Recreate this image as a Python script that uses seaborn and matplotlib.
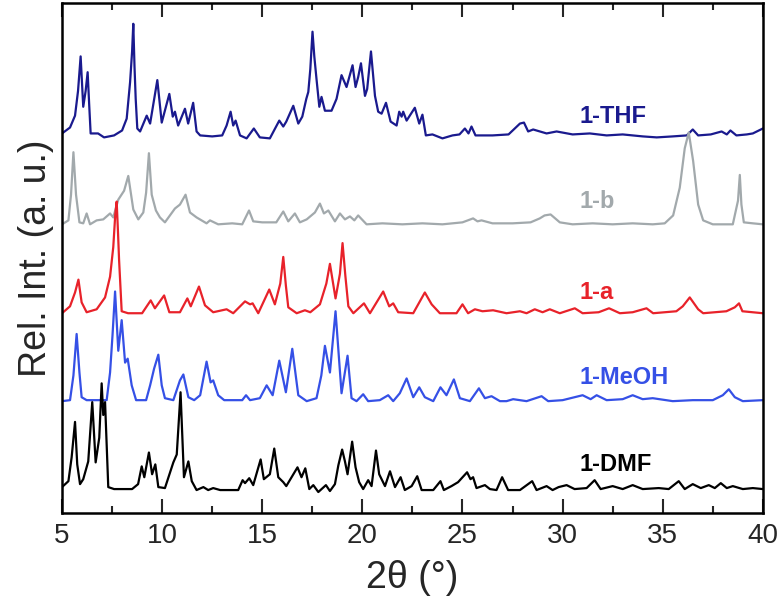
import numpy as np
import pandas as pd
import matplotlib
matplotlib.use("Agg")
import matplotlib.pyplot as plt
import seaborn as sns
from matplotlib.ticker import MultipleLocator

# ---- data (2theta in degrees, intensity above own baseline) ----
thf_x = [5.0, 5.4, 5.65, 5.8, 5.93, 6.06, 6.18, 6.28, 6.36, 6.43, 6.8, 7.1, 7.6, 8.0, 8.23,
         8.4, 8.5, 8.56, 8.62, 8.68, 8.76, 8.9, 9.23, 9.4,
         9.76, 9.98, 10.36, 10.53, 10.64, 10.8, 11.14, 11.3, 11.55, 11.72, 11.9, 12.5, 13.0,
         13.22, 13.42, 13.55, 13.67, 13.89, 14.22, 14.58, 14.88, 15.38, 15.85, 16.05, 16.2,
         16.55, 16.8, 17.0, 17.2, 17.3, 17.4, 17.51, 17.6, 17.71, 17.85, 17.96, 18.13, 18.46,
         18.71, 18.96, 19.21, 19.51, 19.66, 19.79, 19.93, 20.13, 20.24, 20.43, 20.63, 20.79,
         20.96, 21.18, 21.41, 21.71, 21.84, 21.96, 22.04, 22.21, 22.62, 22.84, 23.0, 23.17,
         23.5, 24.0, 24.5, 24.85, 25.12, 25.3, 25.45, 25.65, 26.5, 27.3, 27.87, 28.07, 28.28,
         28.53, 29.2, 29.7, 30.5, 31.36, 32.2, 33.0, 34.0, 34.7, 35.5, 36.2, 36.5, 36.77, 37.4,
         37.94, 38.2, 38.38, 38.68, 39.2, 39.5, 40.0]
thf_y = [2, 8, 20, 45, 80, 29, 45, 64, 30, 2, 2, -2, 0, 5, 17,
         54, 85, 113, 70, 37, 7, 4, 20, 12,
         56, 13, 42, 19, 24, 10, 27, 12, 33, 4, 0, -1, 0,
         10, 24, 10, 15, 0, -3, 7, -2, -3, 15, 9, 14,
         30, 12, 19, 37, 44, 67, 105, 80, 57, 29, 39, 25, 25,
         37, 61, 49, 71, 49, 59, 73, 40, 47, 85, 40, 24,
         22, 33, 14, 10, 24, 19, 24, 15, 28, 12, 21, 0,
         1, -3, 0, 1, 7, 2, 9, 0, 0, 1, 12, 13, 4,
         6, 2, 4, 1, 2, 0, 1, -1, -2, -1, 0, 6, 0, 1,
         4, 1, 5, 0, 1, 2, 7]

b_x = [5.0, 5.32, 5.45, 5.57, 5.7, 5.87, 6.06, 6.23, 6.4, 6.73, 7.06, 7.4, 7.56, 7.81, 8.1,
       8.31, 8.56, 8.81, 9.06, 9.2, 9.34, 9.48, 9.69, 9.89, 10.14, 10.64, 10.89, 11.17, 11.39,
       11.72, 12.22, 12.39, 12.8, 13.5, 14.0, 14.34, 14.55, 15.0, 15.7, 16.05, 16.3, 16.63,
       16.88, 17.22, 17.63, 17.88, 18.08, 18.3, 18.63, 18.88, 19.13, 19.38, 19.6, 19.79,
       20.21, 21.0, 22.0, 23.0, 24.0, 25.0, 25.53, 25.75, 25.95, 26.5, 27.5, 28.4, 28.86,
       29.1, 29.4, 29.86, 30.5, 31.5, 32.5, 33.5, 34.5, 35.1, 35.52, 35.85, 36.1, 36.3,
       36.52, 36.77, 37.02, 37.5, 38.5, 38.76, 38.85, 38.93, 39.05, 39.5, 40.0]
b_y = [0, 4, 30, 73, 30, 2, 1, 11, 0, 4, 5, 11, 7, 25, 34,
       49, 15, 5, 12, 32, 72, 30, 14, 7, 2, 16, 20, 30, 12,
       7, 1, 4, 0, 1, 0, 14, 3, 2, 2, 13, 3, 11,
       2, 5, 12, 21, 11, 14, 3, 11, 5, 8, 4, 9,
       0, 1, 0, 1, 0, 2, 6, 3, 4, 1, 1, 2, 6,
       9, 10, 2, 0, 1, 0, 1, 0, 1, 9, 37, 77, 93,
       64, 20, 4, 0, 0, 24, 50, 20, 2, 1, 0]

a_x = [5.0, 5.4, 5.65, 5.82, 5.98, 6.23, 6.73, 7.15, 7.4, 7.56, 7.66, 7.73, 7.8, 7.85, 7.98,
       8.3, 9.0, 9.43, 9.64, 10.1, 10.36, 10.89, 11.26, 11.43, 11.84, 12.14, 12.55, 13.22,
       13.55, 14.14, 14.39, 14.52, 14.8, 15.35, 15.63, 15.9, 16.05, 16.18, 16.3, 16.72,
       17.13, 17.4, 17.88, 18.2, 18.38, 18.66, 18.88, 19.01, 19.15, 19.3, 19.55, 20.08,
       20.38, 21.04, 21.34, 21.54, 21.79, 22.54, 23.12, 23.46, 23.87, 24.7, 25.0, 25.28,
       25.62, 26.0, 26.53, 27.2, 27.87, 28.2, 28.61, 29.0, 29.36, 29.86, 30.61, 31.0, 31.8,
       32.32, 32.86, 33.5, 34.19, 34.52, 35.68, 36.0, 36.35, 36.77, 37.02, 38.18, 38.6,
       38.81, 38.98, 40.0]
a_y = [0, 7, 21, 34, 11, 1, 4, 16, 37, 67, 100, 113, 80, 54, 2,
       0, 0, 13, 5, 18, 1, 1, 15, 7, 27, 8, 1, 4,
       0, 12, 9, 10, 0, 24, 9, 30, 57, 28, 6, 0,
       3, 1, 9, 30, 50, 15, 40, 71, 38, 7, 0, 10,
       0, 22, 7, 10, 1, 0, 21, 9, 0, 0, 9, 0,
       4, 2, 3, 0, 2, 0, 4, 1, 4, 0, 5, 0, 1,
       5, 0, 1, 5, 0, 2, 7, 16, 4, 0, 2, 6,
       10, 2, 0]

meoh_x = [5.0, 5.4, 5.57, 5.73, 5.87, 5.98, 6.23, 7.23, 7.4, 7.52, 7.65, 7.81, 7.98, 8.15,
          8.28, 8.48, 8.7, 9.2, 9.4, 9.6, 9.81, 9.98, 10.14, 10.56, 10.89, 11.06, 11.31, 11.6,
          11.9, 12.22, 12.42, 12.55, 12.8, 13.1, 14.0, 14.19, 14.39, 14.88, 15.22, 15.52,
          15.85, 16.18, 16.5, 16.8, 17.22, 17.71, 17.95, 18.13, 18.38, 18.66, 18.96, 19.26,
          19.46, 19.71, 20.04, 20.29, 20.87, 21.29, 21.54, 21.87, 22.21, 22.54, 22.84, 23.12,
          23.54, 23.9, 24.2, 24.57, 24.87, 25.37, 25.82, 26.12, 26.45, 26.87, 27.2, 27.53,
          28.2, 28.95, 29.28, 30.0, 31.0, 31.4, 31.7, 32.2, 33.0, 33.5, 34.0, 34.5, 35.5,
          36.5, 37.5, 38.0, 38.3, 38.6, 39.0, 40.0]
meoh_y = [0, 1, 26, 68, 29, 4, 1, 1, 29, 66, 111, 51, 82, 39,
          43, 16, 1, 1, 16, 33, 47, 16, 3, 1, 21, 27, 4, 1,
          6, 40, 19, 21, 6, 1, 1, 6, 1, 3, 16, 6,
          41, 9, 53, 6, 0, 3, 26, 56, 29, 91, 8, 46,
          3, 0, 7, 0, 1, 6, 0, 8, 23, 4, 14, 4,
          0, 14, 6, 22, 3, 0, 13, 3, 5, 0, 0, 2,
          0, 5, 0, 1, 6, 2, 6, 1, 2, 6, 2, 3, 0,
          1, 1, 6, 12, 4, 0, 1]

dmf_x = [5.0, 5.32, 5.48, 5.65, 5.76, 5.9, 6.06, 6.31, 6.51, 6.68, 6.86, 6.98, 7.06, 7.15,
         7.31, 7.6, 8.5, 8.8, 8.98, 9.11, 9.34, 9.5, 9.66, 9.81, 10.14, 10.56, 10.73, 10.92,
         11.09, 11.31, 11.48, 11.72, 12.06, 12.3, 12.55, 12.9, 13.8, 14.02, 14.14, 14.35,
         14.55, 14.92, 15.08, 15.38, 15.6, 15.8, 16.05, 16.2, 16.76, 16.96, 17.15, 17.35,
         17.55, 17.8, 18.18, 18.38, 18.63, 18.8, 18.99, 19.13, 19.26, 19.49, 19.66, 19.84,
         20.04, 20.29, 20.46, 20.68, 20.84, 21.13, 21.38, 21.63, 21.91, 22.12, 22.46, 22.74,
         22.96, 23.54, 23.9, 24.07, 24.45, 24.78, 25.23, 25.4, 25.53, 25.7, 26.12, 26.37,
         26.7, 26.98, 27.28, 27.87, 28.48, 28.7, 29.2, 29.5, 29.8, 30.2, 30.6, 31.2, 31.6,
         31.9, 32.5, 33.0, 33.5, 34.0, 34.8, 35.3, 35.8, 36.1, 36.5, 36.9, 37.3, 37.6, 37.9,
         38.2, 38.5, 39.0, 39.5, 40.0]
dmf_y = [3, 9, 33, 69, 26, 6, 11, 29, 89, 28, 53, 108, 76, 89,
         3, 1, 1, 6, 24, 13, 38, 16, 26, 3, 2, 28, 36, 99,
         13, 29, 9, 0, 3, 0, 2, 0, 0, 10, 7, 12,
         5, 31, 11, 16, 42, 13, 8, 4, 23, 13, 22, 1,
         5, -2, 5, -1, 6, 25, 41, 29, 16, 49, 23, 8,
         1, 10, 4, 40, 16, 4, 19, 3, 13, 0, 4, 14,
         0, 0, 9, 0, 4, 8, 18, 11, 13, 2, 5, 1,
         0, 13, 0, 0, 9, 0, 4, 0, 3, 5, 1, 2, 10,
         1, 4, 1, 5, 1, 2, 1, 9, 1, 6, 2, 5, 2, 7,
         2, 4, 1, 2, 1]

samples = ["1-THF", "1-b", "1-a", "1-MeOH", "1-DMF"]
offsets = [382, 292, 202, 113, 23]
colors = ["#1a1a8e", "#a2a9ac", "#e8222a", "#3550e6", "#000000"]
label_y = [401, 315, 223, 137, 49]


def build_frame():
    xs = [thf_x, b_x, a_x, meoh_x, dmf_x]
    ys = [thf_y, b_y, a_y, meoh_y, dmf_y]
    parts = []
    for name, off, x, y in zip(samples, offsets, xs, ys):
        parts.append(pd.DataFrame({"sample": name, "two_theta": x,
                                   "intensity": np.array(y) + off}))
    return pd.concat(parts, ignore_index=True)


def plot():
    sns.set_style("ticks")
    plt.rcParams["font.family"] = ["Liberation Sans", "DejaVu Sans"]

    df = build_frame()
    fig = plt.figure(figsize=(7.8, 6.09), dpi=100)
    ax = fig.add_axes([0.0795, 0.158, 0.8985, 0.837])

    sns.lineplot(data=df, x="two_theta", y="intensity", hue="sample",
                 hue_order=samples, palette=colors, estimator=None, sort=False,
                 legend=False, linewidth=1.6, ax=ax)

    for name, c, ly in zip(samples, colors, label_y):
        ax.text(30.86, ly, name, color=c, fontsize=17, fontweight="bold",
                ha="left", va="center")

    ax.set_xlim(5, 40)
    ax.set_ylim(0, 516)
    ax.xaxis.set_major_locator(MultipleLocator(5))
    ax.xaxis.set_minor_locator(MultipleLocator(2.5))
    ax.tick_params(axis="x", which="both", direction="in", top=True, width=1.5,
                   labelsize=20, pad=7)
    ax.tick_params(axis="x", which="major", length=10)
    ax.tick_params(axis="x", which="minor", length=5)
    ax.set_yticks([])
    for s in ax.spines.values():
        s.set_linewidth(1.8)
        s.set_color("black")

    ax.set_xlabel("2θ (°)", fontsize=27, labelpad=8)
    ax.set_ylabel("Rel. Int. (a. u.)", fontsize=27, labelpad=6)

    fig.savefig("out.png", dpi=100)


if __name__ == "__main__":
    plot()
